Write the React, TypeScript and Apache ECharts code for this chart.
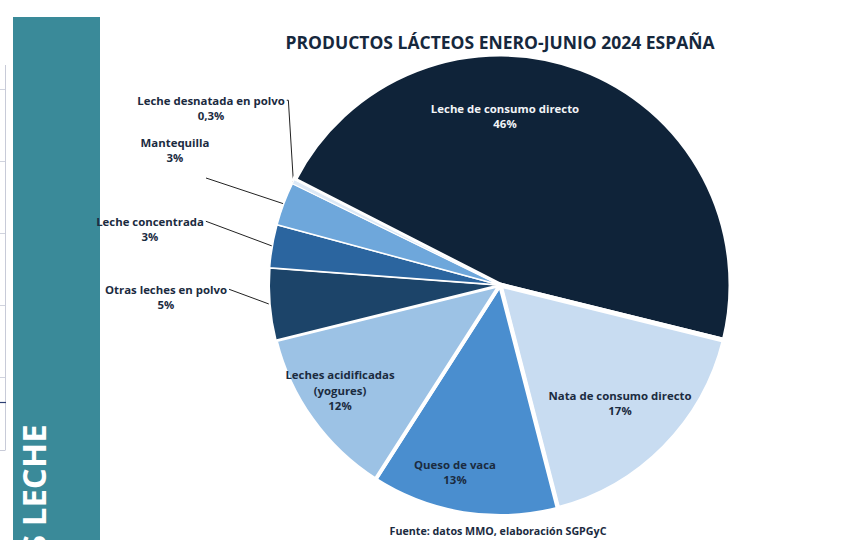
import React, { useEffect, useRef } from "react";
import * as echarts from "echarts";

const categories = [
  "Leche de consumo directo",
  "Nata de consumo directo",
  "Queso de vaca",
  "Leches acidificadas (yogures)",
  "Otras leches en polvo",
  "Leche concentrada",
  "Mantequilla",
  "Leche desnatada en polvo",
];
const shares = [46, 17, 13, 12, 5, 3, 3, 0.3];
const sliceColors = ["#0f2339", "#c8dcf1", "#4a8ecf", "#9cc2e5", "#1c4469", "#2b659f", "#6ea7db", "#dde9f6"];
const titleText = "PRODUCTOS LÁCTEOS ENERO-JUNIO 2024 ESPAÑA";
const sourceText = "Fuente: datos MMO, elaboración SGPGyC";
const sideText = "S LECHE";
const tableLineYs = [89, 161, 233, 305, 377];

const FONT = "'Open Sans', 'Noto Sans', sans-serif";
const DARK = "#1b2b3f";
const LH = 15.5;

// label layout: [centerX, centerY, inside]
const labelPos: [number, number, boolean][] = [
  [505, 116, true],
  [620, 403, true],
  [455, 472, true],
  [340, 390, true],
  [166, 297, false],
  [150, 229, false],
  [175, 150, false],
  [211, 108, false],
];
const borders = [5, 5, 4, 4, 2, 1.5, 1.5, 1];

function fmt(v: number) {
  return String(v).replace(".", ",") + "%";
}

export default function App() {
  const ref = useRef<HTMLDivElement>(null);
  useEffect(() => {
    if (!ref.current) return;
    const chart = echarts.init(ref.current, null, { renderer: "svg" });
    const data = categories.map((name, i) => ({
      name,
      value: shares[i],
      itemStyle: { color: sliceColors[i], borderColor: "#ffffff", borderWidth: borders[i] },
      label: labelPos[i][2]
        ? { position: "inside", color: i === 0 ? "#f2f4f7" : DARK }
        : { position: "outside", color: DARK },
      labelLine: { show: !labelPos[i][2] },
    }));
    const graphics: any[] = [
      {
        type: "rect",
        shape: { x: 13, y: 17, width: 87, height: 530 },
        style: { fill: "#3a8a99" },
      },
      {
        type: "text",
        x: 33,
        y: 553,
        rotation: Math.PI / 2,
        style: {
          text: sideText,
          fill: "#ffffff",
          font: `bold 33px ${FONT}`,
          align: "left",
          verticalAlign: "middle",
        },
      },
      {
        type: "line",
        shape: { x1: 5.5, y1: 65, x2: 5.5, y2: 450 },
        style: { stroke: "#c8cbd8", lineWidth: 1 },
      },
      {
        type: "line",
        shape: { x1: 0, y1: 450.5, x2: 5.5, y2: 450.5 },
        style: { stroke: "#c8cbd8", lineWidth: 1 },
      },
      {
        type: "line",
        shape: { x1: 0, y1: 402.5, x2: 6, y2: 402.5 },
        style: { stroke: "#2c3e73", lineWidth: 1.2 },
      },
      ...tableLineYs.map((y) => ({
        type: "line",
        shape: { x1: 0, y1: y + 0.5, x2: 5, y2: y + 0.5 },
        style: { stroke: "#d0d3de", lineWidth: 1 },
      })),
      {
        type: "text",
        x: 500,
        y: 42,
        style: {
          text: titleText,
          fill: "#16283d",
          font: `bold 17.5px ${FONT}`,
          align: "center",
          verticalAlign: "middle",
        },
      },
      {
        type: "text",
        x: 498,
        y: 531,
        style: {
          text: sourceText,
          fill: DARK,
          font: `bold 10.7px ${FONT}`,
          align: "center",
          verticalAlign: "middle",
        },
      },
    ];
    chart.setOption({
      animation: false,
      backgroundColor: "#ffffff",
      graphic: graphics,
      series: [
        {
          type: "pie",
          center: [500, 285],
          radius: 231,
          startAngle: 152.9,
          clockwise: true,
          avoidLabelOverlap: false,
          data,
          label: {
            show: true,
            fontFamily: FONT,
            fontWeight: "bold",
            fontSize: 11.4,
            lineHeight: LH,
            formatter: (p: any) => p.name.replace(" (", "\n(") + "\n" + fmt(p.value),
          },
          labelLine: {
            lineStyle: { color: "#222222", width: 1 },
          },
          labelLayout: (params: any) => {
            const i = params.dataIndex;
            const [cx, cy, inside] = labelPos[i];
            const out: any = { x: cx, y: cy, align: "center", verticalAlign: "middle" };
            if (!inside && params.labelLinePoints) {
              const a = params.labelLinePoints[0];
              const w = params.labelRect.width;
              const h = params.labelRect.height;
              const firstY = cy - h / 2 + LH / 2;
              const right = cx + w / 2 + 2;
              if (i === 7) {
                out.labelLinePoints = [a, [a[0] - 5, firstY], [right, firstY]];
              } else if (i === 6) {
                out.labelLinePoints = [a, [cx + 31, cy + 28]];
              } else {
                out.labelLinePoints = [a, [right, firstY]];
              }
            }
            return out;
          },
        },
      ],
    });
    return () => chart.dispose();
  }, []);
  return (
    <div
      ref={ref}
      style={{ position: "fixed", left: 0, top: 0, width: 858, height: 540 }}
    />
  );
}
